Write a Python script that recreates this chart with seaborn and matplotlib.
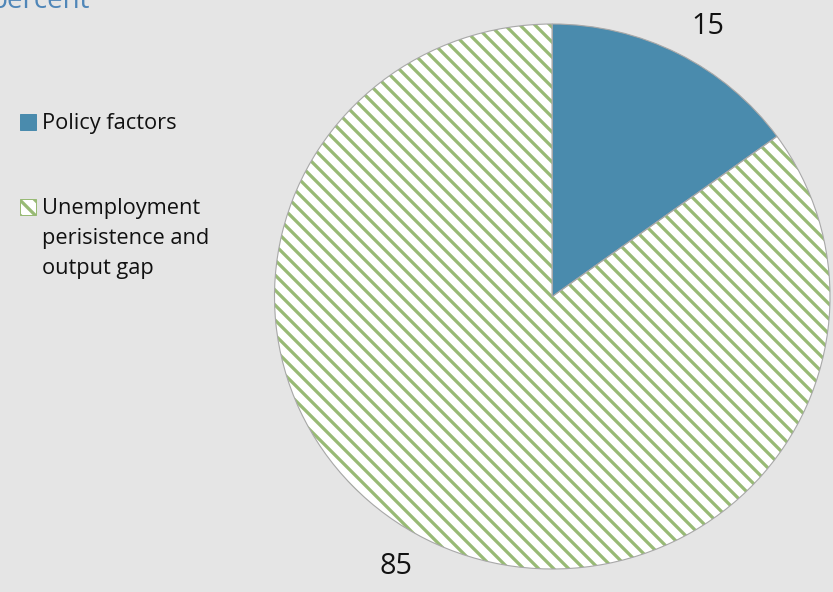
import matplotlib
matplotlib.use("Agg")
import matplotlib.pyplot as plt
from matplotlib.patches import Rectangle
import seaborn as sns

# data
labels = ["Policy factors", "Unemployment\nperisistence and\noutput gap"]
shares = [15, 85]
colors = ["#4A8BAD", "#98BA75"]
hatches = ["", "\\\\"]
title = "percent"

bg = "#E5E5E5"

sns.set_theme(style="white", rc={"figure.facecolor": bg, "axes.facecolor": bg})
plt.rcParams["font.family"] = ["Open Sans", "DejaVu Sans"]
plt.rcParams["hatch.linewidth"] = 2.6

DPI = 90
fig = plt.figure(figsize=(833 / DPI, 592 / DPI), dpi=DPI)
W, H = 833, 592

# pie axes fills the bounding box of the (slightly oval) pie
left, right, top, bottom = 274.5, 830, 24, 569
ax = fig.add_axes([left / W, 1 - bottom / H, (right - left) / W, (bottom - top) / H])

wedges, _ = ax.pie(
    shares, startangle=90, counterclock=False, radius=1,
    colors=colors, wedgeprops=dict(linewidth=0))
for w, c, h in zip(wedges, colors, hatches):
    if h:
        w.set_facecolor("white")
        w.set_edgecolor(c)
        w.set_hatch(h)
        if hasattr(w, "set_hatch_linewidth"):
            w.set_hatch_linewidth(2.6)
# thin grey outline
ax.pie(shares, startangle=90, counterclock=False, radius=1,
       colors=["none", "none"],
       wedgeprops=dict(linewidth=0.9, edgecolor="#A8A8A8", fill=False))
# value labels (slightly rotated like the original)
ax.pie(shares, startangle=87.5, counterclock=False, radius=1,
       colors=["none", "none"], autopct="%.0f", pctdistance=1.14,
       wedgeprops=dict(linewidth=0, fill=False),
       textprops=dict(fontsize=23, color="#111111"))
ax.set_aspect("auto")
ax.set_xlim(-1, 1)
ax.set_ylim(-1, 1)
ax.axis("off")

# legend drawn on the figure
leg_y = [122, 207]
for lab, c, h, y in zip(labels, colors, hatches, leg_y):
    face = "white" if h else c
    fig.patches.append(Rectangle((20 / W, 1 - (y + 8) / H), 16 / W, 16 / H,
                                 transform=fig.transFigure, facecolor=face,
                                 edgecolor=c, hatch=h or None, linewidth=0.8))
    fig.text(42 / W, 1 - (y - 9) / H, lab, fontsize=17.4, va="top", ha="left",
             color="#111111", linespacing=1.55)

fig.text(-9 / W, 1 - 8 / H, title, fontsize=22.2, color="#4F86B8",
         va="baseline", ha="left")

fig.savefig("out.png", dpi=DPI, facecolor=bg)
